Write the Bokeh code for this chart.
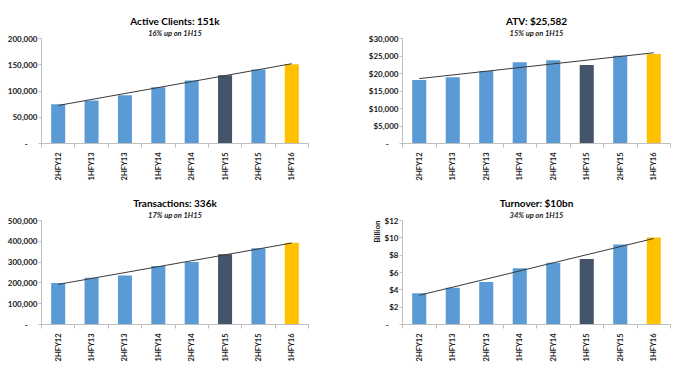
import math
import numpy as np
from bokeh.plotting import figure
from bokeh.layouts import column, row
from bokeh.models import Range1d, FixedTicker, Title, CustomJSTickFormatter
from bokeh.embed import file_html
from bokeh.resources import INLINE

# ---------------- data ----------------
categories = ["2HFY12", "1HFY13", "2HFY13", "1HFY14", "2HFY14", "1HFY15", "2HFY15", "1HFY16"]

clients = [75000, 82000, 92000, 107000, 120000, 130000, 141000, 151000]
clients_ticks = [0, 50000, 100000, 150000, 200000]
clients_labels = ["-", "50,000", "100,000", "150,000", "200,000"]

atv = [18150, 18900, 20700, 23200, 23800, 22400, 25100, 25582]
atv_ticks = [0, 5000, 10000, 15000, 20000, 25000, 30000]
atv_labels = ["-", "$5,000", "$10,000", "$15,000", "$20,000", "$25,000", "$30,000"]

transactions = [199500, 225000, 236000, 281000, 300000, 338000, 366000, 393000]
trans_ticks = [0, 100000, 200000, 300000, 400000, 500000]
trans_labels = ["-", "100,000", "200,000", "300,000", "400,000", "500,000"]

turnover = [3.6, 4.24, 4.91, 6.49, 7.12, 7.57, 9.22, 10.04]
turn_ticks = [0, 2, 4, 6, 8, 10, 12]
turn_labels = ["-", "$2", "$4", "$6", "$8", "$10", "$12"]

titles = ["Active Clients: 151k", "ATV: $25,582", "Transactions: 336k", "Turnover: $10bn"]
subtitles = ["16% up on 1H15", "15% up on 1H15", "17% up on 1H15", "34% up on 1H15"]

# ---------------- style ----------------
BLUE = "#5B9BD5"
DARK = "#44546A"
GOLD = "#FFC000"
bar_colors = [BLUE, BLUE, BLUE, BLUE, BLUE, DARK, BLUE, GOLD]
AXIS = "#BFBFBF"
TEXT = "#1a1a1a"
FONT = "Lato"


def make_chart(title, subtitle, values, ticks, labels, width, height, bl, br, bt, bb, ylabel=None):
    n = len(categories)
    p = figure(width=width, height=height, output_backend="svg", toolbar_location=None,
               x_range=Range1d(0, n), y_range=Range1d(0, max(ticks)),
               min_border_left=bl, min_border_right=br, min_border_top=bt, min_border_bottom=bb)
    p.outline_line_color = None
    p.grid.visible = False
    p.background_fill_color = "white"

    xs = [i + 0.5 for i in range(n)]
    p.vbar(x=xs, top=values, width=0.42, color=bar_colors, line_color=None)

    coef = np.polyfit(np.arange(n), np.array(values, dtype=float), 1)
    p.line(x=[xs[0], xs[-1]], y=[coef[1], coef[0] * (n - 1) + coef[1]],
           line_color="#3a3a3a", line_width=1)

    # x axis
    xa = p.xaxis[0]
    xa.ticker = FixedTicker(ticks=xs, minor_ticks=list(range(n + 1)))
    xa.formatter = CustomJSTickFormatter(args=dict(cats=categories),
                                         code="return cats[Math.floor(tick)] || '';")
    xa.major_label_orientation = math.pi / 2
    xa.major_tick_line_color = None
    xa.major_tick_out = 0
    xa.major_tick_in = 0
    xa.minor_tick_out = 4
    xa.minor_tick_in = 0
    xa.minor_tick_line_color = AXIS
    xa.axis_line_color = AXIS
    xa.major_label_standoff = 5
    xa.major_label_text_font = FONT
    xa.major_label_text_font_size = "7.5px"
    xa.major_label_text_font_style = "bold"
    xa.major_label_text_color = TEXT

    # y axis
    ya = p.yaxis[0]
    ya.ticker = FixedTicker(ticks=ticks, minor_ticks=[])
    ya.formatter = CustomJSTickFormatter(args=dict(tks=ticks, lbls=labels), code="""
        for (let i = 0; i < tks.length; i++) {
            if (Math.abs(tks[i] - tick) < 1e-9) {
                return lbls[i] == '-' ? '-\u00a0\u00a0\u00a0\u00a0\u00a0' : lbls[i];
            }
        }
        return '';
    """)
    ya.axis_line_color = AXIS
    ya.major_tick_line_color = AXIS
    ya.major_tick_out = 3
    ya.major_tick_in = 0
    ya.minor_tick_line_color = None
    ya.major_label_standoff = 1
    ya.major_label_text_font = FONT
    ya.major_label_text_font_size = "8px"
    ya.major_label_text_font_style = "bold"
    ya.major_label_text_color = TEXT

    if ylabel:
        p.add_layout(Title(text=ylabel, align="right", text_font=FONT, text_font_size="8px",
                           text_font_style="bold", text_color=TEXT, standoff=0), "left")

    p.add_layout(Title(text=subtitle, align="center", text_font=FONT, text_font_size="7.5px",
                       text_font_style="bold italic", text_color=TEXT, standoff=1), "above")
    p.add_layout(Title(text=title, align="center", text_font=FONT, text_font_size="10px",
                       text_font_style="bold", text_color="#000000", standoff=0), "above")
    return p


p1 = make_chart(titles[0], subtitles[0], clients, clients_ticks, clients_labels,
                341, 188, 41, 33, 38, 45)
p2 = make_chart(titles[1], subtitles[1], atv, atv_ticks, atv_labels,
                336, 188, 61, 7, 37, 45)
p3 = make_chart(titles[2], subtitles[2], transactions, trans_ticks, trans_labels,
                341, 176, 41, 33, 32, 38)
p4 = make_chart(titles[3], subtitles[3], turnover, turn_ticks, turn_labels,
                336, 176, 61, 7, 31, 38, ylabel="Billion")

layout = column(row(p1, p2), row(p3, p4))

open("out.html", "w").write(file_html(layout, INLINE))
